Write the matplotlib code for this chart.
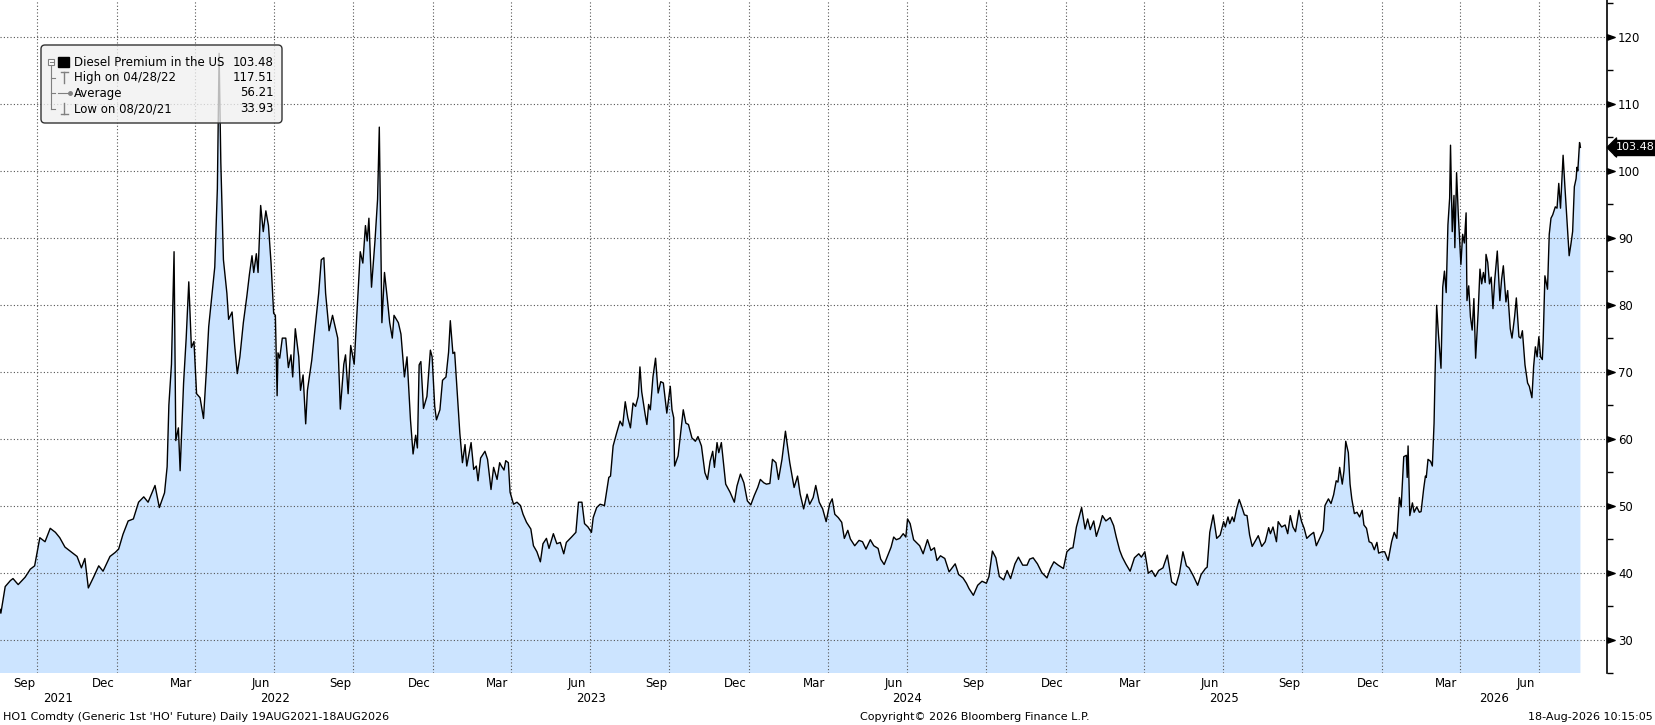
import matplotlib
matplotlib.use("Agg")
import matplotlib.pyplot as plt
import matplotlib.dates as mdates
from matplotlib.patches import FancyBboxPatch, Rectangle
from matplotlib.lines import Line2D
from matplotlib.path import Path
from matplotlib.transforms import Affine2D, blended_transform_factory, offset_copy
import numpy as np
import pandas as pd

plt.rcParams['font.family'] = ['DejaVu Sans']

# HO1 diesel premium (days after 19 Aug 2021, value)
start = pd.Timestamp("2021-08-19")

days_a = [0, 1, 6, 12, 15, 21, 29, 35, 40, 46,
          52, 58, 64, 69, 75, 81, 89, 94, 98, 102,
          108, 114, 119, 127, 133, 137, 142, 148, 154, 160,
          166, 171, 179, 184, 190, 193, 195, 198, 201, 203,
          206, 208, 212, 215, 218, 221, 224, 227, 231, 235,
          238, 241, 245, 248, 251, 253, 255, 258, 262, 264,
          268, 271, 274, 277, 281, 285, 288, 291, 293, 296,
          298, 301, 304, 307, 310, 313, 316, 318, 320, 321,
          323, 326, 330, 333, 336, 338, 341, 345, 347, 350,
          353, 355, 360, 364, 368, 371, 374, 376, 380, 384,
          387, 390, 393, 397, 399, 402, 405, 409, 412, 416,
          419, 422, 424, 426, 429, 433, 436, 438, 441, 444,
          447, 450, 453, 455, 460, 463, 467, 470, 474, 477,
          480, 482]
vals_a = [34.5, 33.93, 37.9, 38.8, 39.1, 38.2, 39.3, 40.5, 41.0, 45.2,
          44.6, 46.6, 46.0, 45.2, 43.8, 43.2, 42.4, 40.7, 42.1, 37.7,
          39.3, 41.0, 40.2, 42.4, 43.0, 43.5, 45.7, 47.7, 48.0, 50.5,
          51.3, 50.5, 53.0, 49.7, 51.9, 55.8, 65.0, 71.1, 87.9, 59.7,
          61.6, 55.2, 68.3, 75.0, 83.4, 73.6, 74.5, 66.7, 66.1, 63.0,
          69.5, 76.7, 81.7, 85.6, 97.3, 117.51, 101.2, 86.7, 81.7, 77.8,
          78.9, 73.9, 69.7, 72.2, 77.3, 81.2, 84.5, 87.3, 84.8, 87.6,
          84.8, 94.8, 90.9, 94.0, 91.8, 86.2, 78.7, 78.4, 66.4, 72.8,
          72.0, 75.0, 75.0, 70.6, 72.5, 69.2, 76.4, 72.2, 67.2, 69.5,
          62.2, 67.2, 71.7, 76.7, 81.7, 86.7, 87.0, 81.7, 76.1, 78.4,
          76.7, 75.0, 64.4, 71.1, 72.5, 66.7, 73.9, 71.1, 78.4, 87.9,
          86.2, 91.8, 89.5, 92.9, 82.6, 89.5, 95.7, 106.5, 77.3, 84.8,
          81.2, 77.3, 75.0, 78.4, 77.3, 75.6, 69.2, 72.2, 62.8, 57.7,
          60.5, 58.6]

days_b = [484, 486, 489, 493, 497, 499, 502, 504, 508, 511,
          515, 518, 520, 523, 525, 528, 531, 534, 537, 539,
          544, 547, 550, 552, 555, 560, 563, 567, 570, 574,
          577, 579, 582, 584, 587, 589, 593, 597, 601, 604,
          608, 613, 616, 620, 624, 627, 631, 634, 639, 643,
          647, 651, 654, 660, 665, 668, 672, 675, 679, 683,
          685, 689, 693, 698, 703, 705, 708, 712, 716, 719,
          722, 725, 728, 731, 734, 737, 739, 741, 745, 747,
          749, 751, 754, 757, 760, 763, 766, 770, 774, 776,
          778, 779, 783, 786, 789, 792, 795, 799, 803, 806,
          810, 814, 817, 820, 823, 825, 828, 830, 833, 838,
          843, 848, 851, 855, 859, 863, 867, 871, 875, 878,
          882, 885, 889, 892, 896, 899, 903, 907, 912, 914,
          917, 921]
vals_b = [71.0, 71.5, 64.5, 66.3, 73.2, 72.2, 64.8, 62.8, 64.3, 68.7,
          69.2, 72.9, 77.6, 72.7, 72.9, 66.8, 60.8, 56.4, 59.1, 55.9,
          59.4, 55.4, 55.9, 53.7, 57.1, 58.1, 56.9, 52.4, 55.7, 53.9,
          56.4, 55.9, 55.3, 56.7, 56.4, 52.0, 50.2, 50.5, 50.0, 48.7,
          47.5, 46.5, 44.0, 43.1, 41.6, 44.3, 45.1, 43.6, 45.8, 44.3,
          44.5, 42.8, 44.5, 45.3, 46.0, 50.5, 50.5, 47.3, 46.8, 46.0,
          48.2, 49.7, 50.2, 50.0, 54.2, 54.4, 58.9, 60.8, 62.6, 61.9,
          65.5, 63.1, 61.6, 65.3, 64.8, 66.3, 70.7, 67.0, 63.6, 62.1,
          65.1, 64.3, 69.2, 72.0, 66.8, 68.5, 68.3, 63.8, 67.8, 64.3,
          63.1, 55.9, 57.4, 60.8, 64.3, 62.3, 62.1, 60.1, 59.6, 60.3,
          58.9, 54.9, 53.9, 56.6, 58.1, 55.7, 59.4, 57.9, 59.4, 53.2,
          52.0, 50.5, 52.9, 54.7, 53.4, 50.7, 50.1, 51.5, 52.7, 53.9,
          53.4, 53.2, 53.3, 56.9, 56.4, 53.9, 56.9, 61.1, 56.4, 54.9,
          52.7, 54.4]

days_c = [924, 928, 932, 935, 939, 942, 946, 950, 954, 958,
          961, 964, 968, 972, 975, 979, 982, 987, 992, 996,
          1000, 1005, 1009, 1014, 1017, 1021, 1025, 1029, 1032, 1035,
          1039, 1043, 1046, 1048, 1051, 1055, 1062, 1066, 1071, 1075,
          1079, 1082, 1086, 1091, 1096, 1103, 1107, 1112, 1116, 1119,
          1124, 1129, 1134, 1139, 1142, 1146, 1150, 1154, 1159, 1163,
          1167, 1172, 1176, 1181, 1186, 1189, 1193, 1198, 1203, 1209,
          1213, 1217, 1222, 1228, 1232, 1236, 1239, 1243, 1249, 1253,
          1256, 1259, 1263, 1266, 1270, 1273, 1277, 1282, 1286, 1289,
          1293, 1296, 1300, 1305, 1310, 1315, 1318, 1322, 1326, 1330,
          1334, 1338, 1343, 1348, 1353, 1358, 1362, 1366, 1370, 1373,
          1378, 1383, 1387, 1392, 1394, 1397, 1401, 1405]
vals_c = [51.7, 49.5, 51.7, 50.2, 51.2, 53.0, 50.5, 49.5, 47.6, 50.2,
          51.0, 48.7, 48.2, 47.5, 45.1, 46.3, 45.0, 44.0, 44.8, 44.6,
          43.5, 44.9, 44.0, 43.6, 42.0, 41.2, 42.5, 43.8, 45.3, 44.9,
          45.1, 45.8, 45.3, 48.0, 47.3, 44.9, 44.0, 42.8, 44.9, 43.3,
          43.7, 41.8, 42.5, 42.1, 40.1, 41.3, 39.7, 39.2, 38.4, 37.6,
          36.6, 38.1, 38.7, 38.4, 39.4, 43.2, 42.2, 39.4, 38.9, 40.3,
          39.1, 41.3, 42.3, 41.1, 41.1, 42.0, 42.2, 41.3, 40.0, 39.2,
          40.6, 41.6, 41.1, 40.6, 43.1, 43.6, 43.7, 46.8, 49.7, 46.5,
          48.0, 46.4, 47.7, 45.4, 47.0, 48.5, 47.7, 48.2, 47.0, 45.3,
          43.3, 42.3, 41.3, 40.2, 42.2, 42.8, 42.3, 43.1, 39.9, 40.3,
          39.4, 40.3, 40.7, 42.6, 38.6, 38.1, 39.9, 43.1, 41.0, 40.7,
          39.5, 38.1, 39.7, 40.6, 40.8, 46.0, 48.6, 45.1]

days_d = [1409, 1413, 1415, 1418, 1420, 1423, 1425, 1428, 1431, 1434,
          1437, 1440, 1443, 1446, 1449, 1453, 1457, 1461, 1465, 1467,
          1470, 1474, 1476, 1480, 1484, 1487, 1490, 1493, 1496, 1500,
          1503, 1506, 1509, 1513, 1517, 1520, 1525, 1528, 1530, 1534,
          1537, 1540, 1543, 1545, 1547, 1550, 1552, 1554, 1557, 1559,
          1561, 1564, 1567, 1570, 1573, 1575, 1578, 1581, 1584, 1587,
          1590, 1592, 1596, 1599, 1603, 1607, 1610, 1613, 1616, 1618,
          1621, 1624, 1625, 1626, 1628, 1631, 1633, 1636, 1639, 1641,
          1644, 1646, 1647, 1649, 1652, 1654, 1656, 1657]
vals_d = [45.6, 47.6, 46.8, 48.3, 47.3, 48.3, 47.6, 49.5, 50.9, 49.8,
          48.6, 48.5, 45.6, 43.9, 44.6, 45.5, 43.9, 44.6, 46.7, 45.8,
          46.8, 44.6, 47.6, 46.8, 47.1, 45.8, 48.5, 46.8, 46.1, 49.3,
          47.6, 46.6, 45.1, 45.6, 46.0, 44.0, 45.4, 46.3, 50.0, 51.0,
          50.3, 51.6, 53.7, 53.5, 55.7, 53.2, 55.2, 59.6, 57.9, 53.2,
          51.0, 48.8, 49.0, 48.3, 49.3, 47.1, 46.6, 44.6, 44.4, 43.4,
          44.5, 42.9, 43.1, 43.1, 41.8, 44.6, 46.0, 45.1, 51.2, 49.8,
          57.3, 57.5, 54.2, 58.9, 48.5, 50.4, 49.0, 49.8, 49.0, 49.1,
          52.5, 54.4, 54.2, 56.9, 56.6, 55.9, 62.3, 68.7]

days_e = [1659, 1661, 1664, 1666, 1668, 1670, 1672, 1674, 1675, 1677,
          1679, 1680, 1682, 1684, 1687, 1689, 1691, 1693, 1694, 1696,
          1698, 1700, 1702, 1704, 1707, 1709, 1711, 1713, 1715, 1716,
          1718, 1720, 1722, 1724, 1726, 1729, 1732, 1734, 1736, 1739,
          1741, 1744, 1746, 1749, 1751, 1754, 1756, 1758, 1761, 1764,
          1766, 1769, 1771, 1773, 1775, 1777, 1779, 1781, 1782, 1784,
          1787, 1789, 1791, 1793, 1796, 1798, 1800, 1802, 1805, 1807,
          1810, 1812, 1814, 1816, 1818, 1820, 1821, 1822, 1824, 1825]
vals_e = [79.9, 75.7, 70.5, 82.6, 85.0, 81.8, 91.9, 95.9, 103.8, 90.9,
          96.3, 88.5, 99.7, 93.4, 86.0, 90.5, 89.2, 93.7, 80.6, 82.8,
          78.2, 76.2, 80.9, 72.0, 79.1, 85.3, 83.1, 84.8, 83.3, 87.5,
          86.3, 83.1, 84.1, 79.4, 83.6, 88.0, 80.6, 83.8, 85.8, 80.4,
          82.1, 76.4, 75.0, 78.2, 81.0, 75.2, 75.0, 76.1, 71.0, 68.3,
          67.8, 66.1, 70.8, 73.7, 72.2, 75.2, 72.2, 71.8, 74.7, 84.3,
          82.3, 90.5, 92.9, 93.4, 94.6, 94.4, 98.1, 94.4, 102.3, 97.8,
          91.4, 87.3, 89.0, 90.9, 97.6, 98.8, 100.5, 100.0, 104.2, 103.48]

days = np.array(days_a + days_b + days_c + days_d + days_e)
vals = np.array(vals_a + vals_b + vals_c + vals_d + vals_e)
dates = start + pd.to_timedelta(days, unit="D")

legend_rows = [("Diesel Premium in the US", "103.48"),
               ("High on 04/28/22", "117.51"),
               ("Average", "56.21"),
               ("Low on 08/20/21", "33.93")]
last_label = "103.48"
y_ticks = list(range(30, 121, 10))
y_minor = list(range(25, 126, 10))

W, H = 1656, 725
fig = plt.figure(figsize=(W / 100, H / 100), dpi=100)
ax = fig.add_axes([0, 1 - 673 / H, 1607 / W, 673 / H])

ax.fill_between(dates, vals, 0, color="#cce4ff", lw=0, zorder=1)
ax.plot(dates, vals, color="black", lw=1.0, zorder=2)

ax.set_xlim(start, start + pd.Timedelta(days=1855.7))
ax.set_ylim(25.86, 125.48)

# x axis: grid at quarter ends, month names centred in the month
ax.xaxis.set_major_locator(mdates.MonthLocator(bymonth=[1, 4, 7, 10]))
ax.xaxis.set_major_formatter(plt.NullFormatter())
month_starts = [d for d in pd.date_range("2021-09-01", "2026-09-01", freq="MS")
                if d.month in (3, 6, 9, 12)]
lab_dates = [d + pd.Timedelta(days=15) for d in month_starts
             if d + pd.Timedelta(days=15) <= dates[-1]]
ax.xaxis.set_minor_locator(plt.FixedLocator(mdates.date2num(lab_dates)))
ax.xaxis.set_minor_formatter(mdates.DateFormatter("%b"))
ax.tick_params(axis="x", which="both", length=0, pad=3, labelsize=8.5)

x0, x1 = ax.get_xlim()
for yr in range(2021, 2027):
    lo = max(mdates.date2num(pd.Timestamp(f"{yr}-01-01")), x0)
    hi = min(mdates.date2num(pd.Timestamp(f"{yr + 1}-01-01")), x1)
    ax.annotate(str(yr), xy=((lo + hi) / 2, 0), xycoords=("data", "axes fraction"),
                xytext=(0, -18.7), textcoords="offset points",
                ha="center", va="center", fontsize=8.5)

# y axis on the right
ax.yaxis.tick_right()
ax.set_yticks(y_ticks)
ax.set_yticks(y_minor, minor=True)
ax.tick_params(axis="y", which="major", length=0, pad=8, labelsize=8.5)
ax.tick_params(axis="y", which="minor", length=4, width=1, color="black", direction="out")

ax.grid(True, which="major", color="#555555", linestyle=(0, (1, 2)), lw=0.8)
for s in ["left", "top", "bottom"]:
    ax.spines[s].set_visible(False)
ax.spines["right"].set_color("black")
ax.spines["right"].set_linewidth(1.2)

trans = blended_transform_factory(ax.transAxes, ax.transData)
tri = Path([(0, -0.35), (1, 0), (0, 0.35), (0, -0.35)])
ax.plot([1.0] * len(y_ticks), y_ticks, ls="none", marker=tri, ms=11, color="black",
        transform=trans, clip_on=False)

# last value tag
arrow = Path([(-1, 0), (0, 1), (0, -1), (-1, 0)])
ax.plot([1.0], [vals[-1]], marker=arrow, ms=13.7, color="black", ls="none",
        transform=offset_copy(trans, fig, x=9, y=0, units="dots"), clip_on=False)
ax.text(1.0, vals[-1], last_label, color="white", fontsize=8, ha="left", va="center",
        transform=offset_copy(trans, fig, x=9, y=0, units="dots"),
        bbox=dict(boxstyle="square,pad=0.22", fc="black", ec="black"))

# legend box drawn in pixel coordinates (y measured from the top)
pix = Affine2D().scale(1, -1).translate(0, H)
fig.add_artist(FancyBboxPatch((41, 45), 241, 78, boxstyle="round,pad=0,rounding_size=4",
                              fc=(0.94, 0.94, 0.94, 0.78), ec="#333333", lw=1,
                              transform=pix, zorder=5))
row_y = [62, 77.5, 93, 108.5]
for (lab, val), ry in zip(legend_rows, row_y):
    fig.text(74, ry, lab, transform=pix, fontsize=8.5, va="center", ha="left", zorder=6)
    fig.text(274, ry, val, transform=pix, fontsize=8.5, va="center", ha="right", zorder=6)
g = "#808080"
fig.add_artist(Rectangle((48, 58.5), 6, 6, fc="white", ec=g, lw=0.8, transform=pix, zorder=6))
fig.add_artist(Line2D([49.5, 52.5], [61.5, 61.5], color=g, lw=0.8, transform=pix, zorder=6))
fig.add_artist(Rectangle((58, 56.5), 11, 10, fc="black", ec="black", transform=pix, zorder=6))
fig.add_artist(Line2D([51, 51], [65, 108.5], color=g, lw=0.8, transform=pix, zorder=6))
for ry in row_y[1:]:
    fig.add_artist(Line2D([51, 55], [ry, ry], color=g, lw=0.8, transform=pix, zorder=6))
fig.add_artist(Line2D([64, 64], [72, 83], color=g, lw=1, transform=pix, zorder=6))
fig.add_artist(Line2D([60.5, 67.5], [72, 72], color=g, lw=1, transform=pix, zorder=6))
fig.add_artist(Line2D([58, 70], [93, 93], color=g, lw=0.8, marker="o", ms=2.5,
                      markevery=[1], transform=pix, zorder=6))
fig.add_artist(Line2D([64, 64], [103, 114], color=g, lw=1, transform=pix, zorder=6))
fig.add_artist(Line2D([60.5, 67.5], [114, 114], color=g, lw=1, transform=pix, zorder=6))

# footer
fig.text(3, 717, "HO1 Comdty (Generic 1st 'HO' Future) Daily 19AUG2021-18AUG2026",
         transform=pix, fontsize=8, va="center", ha="left")
fig.text(975, 717, "Copyright\u00a9 2026 Bloomberg Finance L.P.",
         transform=pix, fontsize=8, va="center", ha="center")
fig.text(1653, 717, "18-Aug-2026 10:15:05",
         transform=pix, fontsize=8, va="center", ha="right")

fig.savefig("out.png", dpi=100)
